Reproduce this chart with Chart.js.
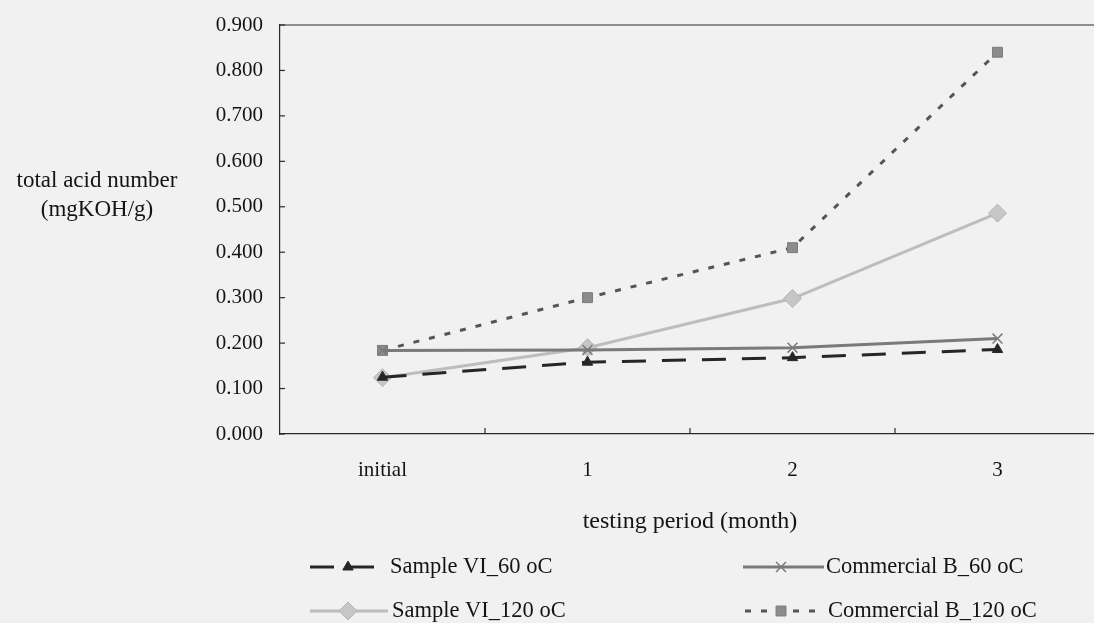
<!DOCTYPE html>
<html>
<head>
<meta charset="utf-8">
<script src="https://cdn.jsdelivr.net/npm/chart.js@4"></script>
<style>
  html, body { margin: 0; padding: 0; background: #f1f1f1; overflow: hidden; }
  #wrap { position: relative; width: 1110px; height: 623px; }
</style>
</head>
<body>
<div id="wrap"><canvas id="grafico"></canvas></div>
<script>
// dados
const periodos = ["initial", "1", "2", "3"];
const sampleVI60 = [0.125, 0.158, 0.168, 0.186];
const commB60 = [0.184, 0.185, 0.190, 0.210];
const sampleVI120 = [0.124, 0.190, 0.298, 0.486];
const commB120 = [0.184, 0.300, 0.410, 0.840];
const ticksY = [0, 0.1, 0.2, 0.3, 0.4, 0.5, 0.6, 0.7, 0.8, 0.9];

const fonte = "'Liberation Serif', 'Times New Roman', serif";
const corTexto = "#141414";

// posições da legenda (duas colunas)
const legendaPos = [
  { x1: 310, x2: 378, mx: 348, tx: 390, y: 567 },
  { x1: 743, x2: 824, mx: 781, tx: 826, y: 567 },
  { x1: 310, x2: 388, mx: 348, tx: 392, y: 611 },
  { x1: 745, x2: 822, mx: 781, tx: 828, y: 611 }
];

const decor = {
  id: "decor",
  afterDraw(chart) {
    const { ctx, chartArea, scales } = chart;
    const x = scales.x, y = scales.y;
    ctx.save();
    ctx.strokeStyle = "#2a2a2a";
    ctx.lineWidth = 1.2;
    // borda superior
    ctx.beginPath();
    ctx.moveTo(chartArea.left, chartArea.top);
    ctx.lineTo(chartArea.right, chartArea.top);
    ctx.stroke();
    // marcas do eixo y (para dentro)
    ticksY.forEach(v => {
      const py = y.getPixelForValue(v);
      ctx.beginPath();
      ctx.moveTo(chartArea.left, py);
      ctx.lineTo(chartArea.left + 5, py);
      ctx.stroke();
    });
    // marcas do eixo x entre categorias
    for (let i = 0; i < periodos.length - 1; i++) {
      const px = (x.getPixelForValue(i) + x.getPixelForValue(i + 1)) / 2;
      ctx.beginPath();
      ctx.moveTo(px, chartArea.bottom);
      ctx.lineTo(px, chartArea.bottom - 6);
      ctx.stroke();
    }
    // título do eixo y (horizontal)
    ctx.fillStyle = corTexto;
    ctx.font = "23px " + fonte;
    ctx.textAlign = "center";
    ctx.textBaseline = "middle";
    ctx.fillText("total acid number", 97, 181);
    ctx.fillText("(mgKOH/g)", 97, 210);

    // legenda
    chart.data.datasets.forEach((ds, i) => {
      const p = legendaPos[i];
      ctx.save();
      ctx.strokeStyle = ds.borderColor;
      ctx.lineWidth = ds.borderWidth;
      ctx.setLineDash(ds.borderDash || []);
      ctx.beginPath();
      ctx.moveTo(p.x1, p.y);
      ctx.lineTo(p.x2, p.y);
      ctx.stroke();
      ctx.restore();
      ctx.save();
      ctx.fillStyle = ds.pointBackgroundColor;
      ctx.strokeStyle = ds.pointBorderColor;
      ctx.lineWidth = ds.pointBorderWidth;
      Chart.helpers.drawPoint(ctx, {
        pointStyle: ds.pointStyle, radius: ds.pointRadius,
        borderWidth: ds.pointBorderWidth, rotation: 0
      }, p.mx, p.y);
      ctx.restore();
      ctx.fillStyle = corTexto;
      ctx.font = "22.5px " + fonte;
      ctx.textAlign = "left";
      ctx.textBaseline = "middle";
      ctx.fillText(ds.label, p.tx, p.y);
    });
    ctx.restore();
  }
};

const ctx = document.getElementById("grafico").getContext("2d");
new Chart(ctx, {
  type: "line",
  data: {
    labels: periodos,
    datasets: [
      {
        label: "Sample VI_60 oC",
        data: sampleVI60,
        borderColor: "#262626",
        borderWidth: 3,
        borderDash: [24, 16],
        pointStyle: "triangle",
        pointRadius: 6,
        pointBackgroundColor: "#262626",
        pointBorderColor: "#262626",
        pointBorderWidth: 1,
        tension: 0
      },
      {
        label: "Commercial B_60 oC",
        data: commB60,
        borderColor: "#7a7a7a",
        borderWidth: 3,
        pointStyle: "crossRot",
        pointRadius: 7,
        pointBackgroundColor: "#7a7a7a",
        pointBorderColor: "#7a7a7a",
        pointBorderWidth: 1.5,
        tension: 0
      },
      {
        label: "Sample VI_120 oC",
        data: sampleVI120,
        borderColor: "#bdbdbd",
        borderWidth: 3,
        pointStyle: "rectRot",
        pointRadius: 9,
        pointBackgroundColor: "#c6c6c6",
        pointBorderColor: "#b4b4b4",
        pointBorderWidth: 1,
        tension: 0
      },
      {
        label: "Commercial B_120 oC",
        data: commB120,
        borderColor: "#555555",
        borderWidth: 3,
        borderDash: [6, 10],
        pointStyle: "rect",
        pointRadius: 7,
        pointBackgroundColor: "#8c8c8c",
        pointBorderColor: "#7a7a7a",
        pointBorderWidth: 1,
        tension: 0
      }
    ]
  },
  options: {
    responsive: true,
    maintainAspectRatio: false,
    animation: false,
    layout: { padding: { left: 0, top: 25, right: 2, bottom: 87 } },
    plugins: {
      legend: { display: false },
      tooltip: { enabled: false }
    },
    scales: {
      y: {
        min: 0,
        max: 0.9,
        afterFit: s => { s.width = 280; s.paddingTop = 0; s.paddingBottom = 0; },
        afterBuildTicks: s => { s.ticks = ticksY.map(v => ({ value: v })); },
        border: { color: "#2a2a2a", width: 1.2 },
        grid: { drawOnChartArea: false, drawTicks: false },
        ticks: {
          padding: 17,
          color: corTexto,
          font: { family: fonte, size: 21 },
          callback: v => Number(v).toFixed(3)
        }
      },
      x: {
        offset: true,
        border: { color: "#2a2a2a", width: 1.2 },
        grid: { display: true, drawOnChartArea: false, drawTicks: false },
        ticks: {
          padding: 24,
          color: corTexto,
          font: { family: fonte, size: 21 }
        },
        title: {
          display: true,
          text: "testing period (month)",
          color: corTexto,
          font: { family: fonte, size: 24 },
          padding: { top: 0, bottom: 0 }
        }
      }
    }
  },
  plugins: [decor]
});
</script>
</body>
</html>
